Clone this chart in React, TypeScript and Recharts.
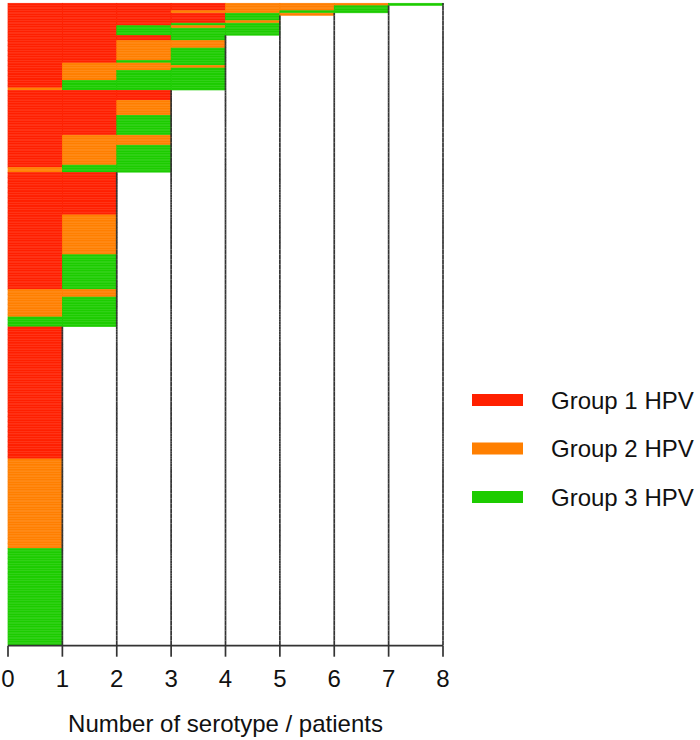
import { BarChart, Bar, XAxis, YAxis, Legend } from "recharts"

const groupNames = ["Group 1 HPV", "Group 2 HPV", "Group 3 HPV"]
const groupColors = ["#FF2000", "#FF7F00", "#1DCC00"]
const xTicks = [0, 1, 2, 3, 4, 5, 6, 7, 8]
const slots = [0, 1, 2, 3, 4, 5, 6, 7]

// one entry per run of identical patients, top to bottom:
// [HPV group of each serotype found, number of patients]
const rowsFourPlus: [string, number][] = [
    ["11112223", 1],
    ["1111223", 2],
    ["1112233", 1],
    ["111132", 1],
    ["11113", 2],
    ["11112", 1],
    ["11133", 1],
    ["11323", 1],
    ["11333", 3],
    ["1113", 2],
    ["1122", 3],
    ["1123", 5],
    ["1133", 1],
    ["1223", 1],
    ["1222", 1],
    ["1223", 1],
    ["1233", 4],
    ["1333", 3],
    ["2333", 1],
]

const rowsThree: [string, number][] = [
    ["111", 4],
    ["112", 6],
    ["113", 8],
    ["122", 4],
    ["123", 8],
    ["133", 1],
    ["233", 2],
]

const rowsTwo: [string, number][] = [
    ["11", 17],
    ["12", 16],
    ["13", 14],
    ["22", 3],
    ["23", 8],
    ["33", 4],
]

const rowsOne: [string, number][] = [
    ["1", 53],
    ["2", 36],
    ["3", 39],
]

const allRows = [...rowsFourPlus, ...rowsThree, ...rowsTwo, ...rowsOne]

// every patient row spans the 8 slots; slots past the patient's count stay empty
const chartData = allRows.flatMap(([pattern, count], gi) =>
    Array.from({ length: count }, (_, j) => {
        const row: any = { id: `p${gi}-${j}`, pattern }
        slots.forEach((k) => (row[`s${k}`] = 1))
        return row
    })
)

const LINE = "#333"
const LINE_W = 1.7

// filled slot -> coloured cell, empty slot -> only the vertical rules at its edges
const slotShape = (k: number) => (props: any) => {
    const { x, y, width, height, payload } = props
    const pattern: string = payload.pattern
    const y0 = y - 0.3
    const y1 = y + height + 0.3
    if (k < pattern.length) {
        const c = groupColors[Number(pattern[k]) - 1]
        return (
            <g>
                <rect x={x} y={y} width={width} height={height} fill={c} stroke={c} strokeWidth={0.7} />
                {k === slots.length - 1 && (
                    <path d={`M${x + width},${y0}V${y1}`} stroke={LINE} strokeWidth={LINE_W} />
                )}
            </g>
        )
    }
    const left = k === pattern.length ? `M${x},${y0}V${y1}` : ""
    return <path d={`${left}M${x + width},${y0}V${y1}`} stroke={LINE} strokeWidth={LINE_W} fill="none" />
}

const renderLegend = () => (
    <svg width={228} height={130}>
        {groupNames.map((name, i) => (
            <g key={name}>
                <rect x={0} y={14 + i * 48.5 - 6} width={51} height={12} fill={groupColors[i]} />
                <text x={79} y={14 + i * 48.5 + 8.5} fontSize={24} fill="#111">{name}</text>
            </g>
        ))}
    </svg>
)

export default function App() {
    return (
        <div style={{ position: "absolute", left: 0, top: 0, width: 700, height: 740, background: "#fff" }}>
            <BarChart
                width={700}
                height={740}
                data={chartData}
                layout="vertical"
                barCategoryGap={0}
                barGap={0}
                margin={{ top: 3.3, right: 257, left: 8, bottom: 0 }}
                style={{ fontFamily: "'Liberation Sans', Arial, sans-serif" }}
            >
                <XAxis
                    type="number"
                    domain={[0, 8]}
                    ticks={xTicks}
                    interval={0}
                    height={94.3}
                    tickSize={11}
                    tickMargin={13}
                    tick={{ fontSize: 24, fill: "#111" }}
                    axisLine={{ stroke: LINE, strokeWidth: LINE_W }}
                    tickLine={{ stroke: LINE, strokeWidth: LINE_W }}
                    label={{ value: "Number of serotype / patients", position: "insideBottom", offset: 8, fontSize: 24, fill: "#111" }}
                />
                <YAxis type="category" dataKey="id" hide />
                <Legend
                    layout="horizontal"
                    verticalAlign="middle"
                    align="center"
                    wrapperStyle={{ left: 472, top: 386, width: 228, height: 130 }}
                    content={renderLegend}
                />
                {slots.map((k) => (
                    <Bar key={k} dataKey={`s${k}`} stackId="a" shape={slotShape(k)} isAnimationActive={false} />
                ))}
            </BarChart>
        </div>
    )
}
